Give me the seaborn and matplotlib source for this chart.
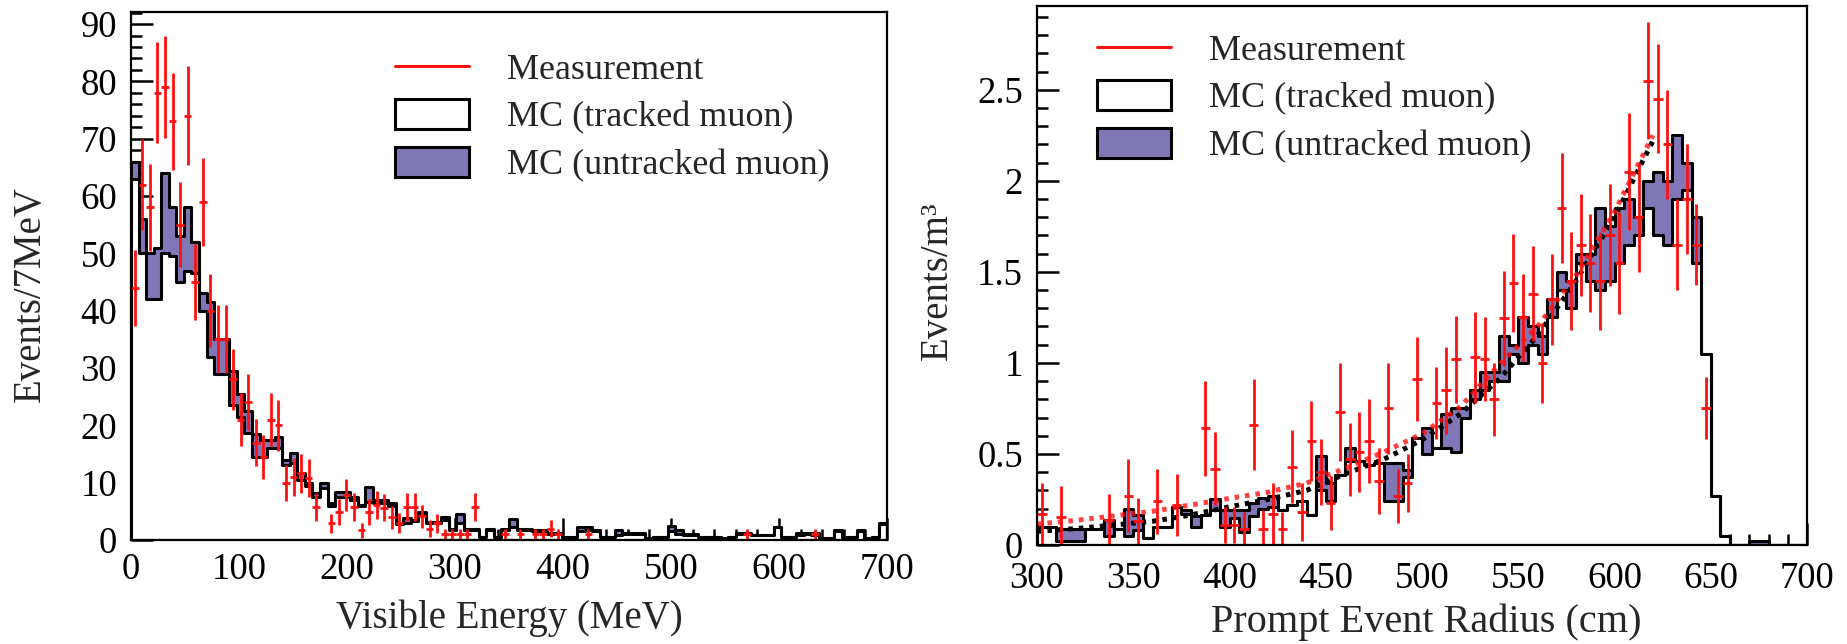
import numpy as np
import pandas as pd
import matplotlib
matplotlib.use("Agg")
import matplotlib.pyplot as plt
from matplotlib.lines import Line2D
from matplotlib.patches import Patch
from matplotlib.ticker import MultipleLocator, FormatStrFormatter
import seaborn as sns

# ---------------- data: visible energy (7 MeV bins, 0-700 MeV) ----------------
energy_edges = np.arange(0, 701, 7)
energy_mc_total = [
    66, 56, 50, 51, 64, 58, 53, 58, 52, 43,
    41.5, 35, 35, 29.5, 25.5, 22.5, 18.5, 17.5, 17.5, 18,
    14, 15.2, 11.7, 10, 8.2, 10, 6.4, 8.4, 8.4, 7.5,
    6.1, 9.3, 7, 7, 6.4, 3, 3.8, 3.5, 4.9, 3.2,
    3.2, 4, 2, 4.5, 2, 2, 0.6, 2, 0.6, 2,
    3.6, 2, 2, 1.7, 1.7, 1.2, 1.2, 0.6, 0.6, 2.3,
    2.3, 1.7, 0.6, 0.6, 1.7, 1.2, 1.2, 1.2, 0.3, 0.6,
    0.6, 2.5, 1.7, 1, 1, 0.6, 0.6, 0.6, 0.4, 0.6,
    1.2, 1.2, 0.9, 0.9, 0.9, 2.3, 0.6, 0.6, 1.2, 1.2,
    1.2, 0.3, 0.3, 1.7, 0.6, 0.6, 1.7, 0.4, 0.6, 2.9,
]
energy_mc_tracked = [
    63, 50, 42, 42, 50, 49.5, 45, 47, 46.5, 40,
    32, 29, 29, 23.5, 21.5, 18.7, 14.5, 14.5, 16, 16,
    13, 13.4, 10.5, 9.5, 7.5, 9, 6, 7.5, 7.5, 7,
    6, 6.6, 6.5, 6.5, 6, 2.8, 3, 3.3, 4.5, 3,
    3, 3.5, 1.8, 3, 1.8, 1.8, 0.5, 1.8, 0.5, 1.8,
    2.3, 1.8, 1.8, 1.5, 1.5, 1.1, 1.1, 0.5, 0.5, 1.5,
    1.7, 1.5, 0.5, 0.5, 0.9, 1.1, 1.1, 1.1, 0, 0.5,
    0.5, 1.5, 1, 0.9, 0.9, 0.5, 0.5, 0.5, 0.2, 0.5,
    1.1, 1.1, 0.8, 0.8, 0.8, 2.2, 0.5, 0.5, 0.8, 1.1,
    0.8, 0.2, 0.2, 1.6, 0.5, 0.5, 1.6, 0.3, 0.5, 2.8,
]
energy_data = [
    44, 62, 58, 78, 79, 73, 55, 74, 45, 59,
    40, 35, 35, 28, 21, 24, 17, 14.5, 21, 20,
    10, 11, 11.6, 10.8, 5.8, 0, 2.9, 4.9, 7.8, 5.8,
    1.7, 4.9, 6.1, 5.6, 4, 3, 5.8, 5.8, 4.1, 2,
    2.9, 1, 1, 1, 1, 5.8, 0, 0, 0, 1,
    0, 1, 0, 1, 1, 2, 1, 0, 0, 0,
    1, 0, 0, 0, 0, 0, 0, 0, 0, 0,
    0, 0, 0, 0, 0, 0, 0, 0, 0, 0,
    0, 1, 0, 0, 0, 0, 0, 0, 0, 0,
    1, 0, 0, 0, 0, 0, 0, 0, 0, 0,
]

# ---------------- data: prompt event radius (5 cm bins, 300-700 cm) ----------------
radius_edges = np.arange(300, 701, 5)
radius_mc_total = [
    0.10, 0.10, 0.09, 0.09, 0.09, 0.09, 0.09, 0.14, 0.09, 0.20,
    0.165, 0.04, 0.10, 0.10, 0.21, 0.19, 0.16, 0.165, 0.25, 0.19,
    0.19, 0.19, 0.23, 0.26, 0.27, 0.19, 0.22, 0.24, 0.165, 0.49,
    0.34, 0.385, 0.53, 0.46, 0.44, 0.45, 0.45, 0.45, 0.41, 0.59,
    0.64, 0.53, 0.72, 0.75, 0.75, 0.85, 0.95, 0.95, 1.15, 1.10,
    1.25, 1.20, 1.15, 1.35, 1.50, 1.45, 1.60, 1.60, 1.85, 1.75,
    1.85, 1.90, 1.80, 2.00, 2.05, 2.00, 2.25, 2.10, 1.80, 1.05,
    0.27, 0.05, 0, 0, 0.02, 0.02, 0, 0, 0, 0,
]
radius_mc_tracked = [
    0.10, 0.10, 0.02, 0.02, 0.02, 0.09, 0.09, 0.05, 0.09, 0.05,
    0.08, 0.04, 0.10, 0.10, 0.21, 0.17, 0.10, 0.165, 0.19, 0.10,
    0.15, 0.07, 0.16, 0.20, 0.21, 0.19, 0.22, 0.24, 0.165, 0.30,
    0.24, 0.385, 0.46, 0.46, 0.44, 0.45, 0.24, 0.24, 0.375, 0.59,
    0.50, 0.53, 0.53, 0.51, 0.70, 0.80, 0.85, 0.90, 0.90, 1.05,
    1.00, 1.10, 1.05, 1.25, 1.40, 1.30, 1.55, 1.45, 1.40, 1.45,
    1.55, 1.65, 1.70, 1.85, 1.70, 1.65, 1.90, 1.95, 1.55, 1.05,
    0.27, 0.05, 0, 0, 0, 0, 0, 0, 0, 0,
]
radius_data_x = [
    302.5, 312.5, 337.5, 347.5, 352.5, 362.5, 372.5, 387.5, 392.5, 397.5,
    402.5, 407.5, 412.5, 417.5, 422.5, 427.5, 432.5, 437.5, 442.5, 447.5,
    452.5, 457.5, 462.5, 467.5, 472.5, 477.5, 482.5, 487.5, 492.5, 497.5,
    507.5, 512.5, 517.5, 527.5, 532.5, 537.5, 542.5, 547.5, 552.5, 557.5,
    562.5, 567.5, 572.5, 577.5, 582.5, 587.5, 592.5, 597.5, 602.5, 607.5,
    612.5, 617.5, 622.5, 627.5, 632.5, 637.5, 642.5, 647.5,
]
radius_data_y = [
    0.17, 0.155, 0.14, 0.27, 0.13, 0.24, 0.22, 0.64, 0.42, 0.11,
    0.11, 0.09, 0.66, 0.09, 0.17, 0.09, 0.43, 0.18, 0.57, 0.40,
    0.23, 0.73, 0.47, 0.51, 0.57, 0.35, 0.75, 0.27, 0.34, 0.91,
    0.78, 0.85, 1.02, 1.03, 1.02, 0.80, 1.245, 1.44, 1.25, 1.38,
    1.00, 1.35, 1.85, 1.45, 1.65, 1.55, 1.45, 1.70, 1.55, 2.05,
    1.80, 2.55, 2.45, 2.20, 1.65, 1.90, 1.65, 0.75,
]
radius_data_err = [
    0.17, 0.17, 0.14, 0.20, 0.13, 0.18, 0.17, 0.26, 0.20, 0.10,
    0.10, 0.09, 0.25, 0.10, 0.17, 0.09, 0.20, 0.16, 0.22, 0.18,
    0.15, 0.27, 0.20, 0.22, 0.23, 0.18, 0.25, 0.15, 0.16, 0.23,
    0.20, 0.24, 0.24, 0.25, 0.23, 0.20, 0.26, 0.27, 0.24, 0.26,
    0.22, 0.25, 0.30, 0.27, 0.28, 0.27, 0.27, 0.28, 0.28, 0.32,
    0.30, 0.32, 0.30, 0.30, 0.25, 0.30, 0.22, 0.17,
]
# fitted curves read at fixed radii
fit_r = [300, 320, 340, 360, 380, 400, 420, 440, 460, 480, 500, 520, 540, 560, 580, 600, 620]
fit_data = [0.115, 0.135, 0.16, 0.185, 0.22, 0.256, 0.29, 0.34, 0.42, 0.51,
            0.61, 0.76, 0.99, 1.20, 1.48, 1.83, 2.25]
fit_mc = [0.075, 0.09, 0.11, 0.13, 0.165, 0.21, 0.25, 0.30, 0.39, 0.47,
          0.577, 0.72, 0.91, 1.15, 1.45, 1.80, 2.22]

legend_labels = ["Measurement", "MC (tracked muon)", "MC (untracked muon)"]

# ---------------- style ----------------
sns.set_theme(style="ticks")
plt.rcParams["font.family"] = ["Liberation Serif", "DejaVu Serif"]
FS_TICK = 26.5
FS_LABEL = 28
FS_LEG = 26
PURPLE = "#8078b6"
RED = "#ff1010"

W, H = 1847, 644
fig = plt.figure(figsize=(W / 100, H / 100), dpi=100)


def frac_axes(x0, y0, x1, y1):
    return fig.add_axes([x0 / W, 1 - y1 / H, (x1 - x0) / W, (y1 - y0) / H])


def mc_hist(ax, edges, total, tracked):
    centers = (edges[:-1] + edges[1:]) / 2
    df = pd.DataFrame({"x": centers, "total": total, "tracked": tracked})
    bin_list = [float(b) for b in edges]
    sns.histplot(data=df, x="x", weights="total", bins=bin_list, element="step", fill=True,
                 color=PURPLE, alpha=1, edgecolor="black", linewidth=2.2, ax=ax)
    sns.histplot(data=df, x="x", weights="tracked", bins=bin_list, element="step", fill=True,
                 color="white", alpha=1, edgecolor="black", linewidth=2.2, ax=ax)


def style_axes(ax, xmaj, xmin, ymaj, ymin):
    for s in ax.spines.values():
        s.set_linewidth(1.6)
        s.set_color("black")
        s.set_visible(True)
        s.set_zorder(6)
    ax.xaxis.set_major_locator(MultipleLocator(xmaj))
    ax.xaxis.set_minor_locator(MultipleLocator(xmin))
    ax.yaxis.set_major_locator(MultipleLocator(ymaj))
    ax.yaxis.set_minor_locator(MultipleLocator(ymin))
    ax.tick_params(which="both", direction="in", top=False, right=False,
                   labelsize=FS_TICK, colors="black", width=1.8)
    ax.tick_params(which="major", length=16)
    ax.tick_params(which="minor", length=8)
    ax.tick_params(axis="y", which="major", pad=10)
    ax.tick_params(axis="x", which="major", pad=9)
    ax.grid(False)


def add_legend(ax, anchor):
    handles = [
        Line2D([], [], color=RED, lw=2.2),
        Patch(facecolor="white", edgecolor="black", linewidth=2.2),
        Patch(facecolor=PURPLE, edgecolor="black", linewidth=2.2),
    ]
    ax.legend(handles, legend_labels, loc="upper left",
              bbox_to_anchor=(anchor[0] / W, 1 - anchor[1] / H),
              bbox_transform=fig.transFigure, frameon=False, fontsize=FS_LEG,
              handlelength=2.05, handleheight=0.9, handletextpad=1.05,
              labelspacing=0.33, borderpad=0, borderaxespad=0)


# ---------------- left: visible energy ----------------
axL = frac_axes(131, 12, 887, 540)
mc_hist(axL, energy_edges, energy_mc_total, energy_mc_tracked)
e_cent = (energy_edges[:-1] + energy_edges[1:]) / 2
e_val = np.asarray(energy_data, float)
keep = e_val > 0
axL.errorbar(e_cent[keep], e_val[keep], xerr=3.5, yerr=np.sqrt(e_val[keep]),
             fmt="none", ecolor=RED, elinewidth=2.0, capsize=0, zorder=5)
axL.set_xlim(0, 700)
axL.set_ylim(0, 92.1)
style_axes(axL, 100, 20, 10, 2)
axL.set_xlabel("Visible Energy (MeV)", fontsize=FS_LABEL)
axL.set_ylabel("Events/7MeV", fontsize=FS_LABEL)
axL.xaxis.set_label_coords(0.5, -0.112)
axL.xaxis.label.set_va("top")
axL.yaxis.set_label_coords(-0.108, 0.465)
add_legend(axL, (395, 52))

# ---------------- right: prompt event radius ----------------
axR = frac_axes(1037, 6, 1807, 545)
mc_hist(axR, radius_edges, radius_mc_total, radius_mc_tracked)
axR.plot(fit_r, fit_mc, color="black", lw=3.6, ls=(0, (0.9, 1.2)), zorder=4)
axR.plot(fit_r, fit_data, color=RED, lw=3.6, ls=(0, (0.9, 1.2)), alpha=0.8, zorder=4)
axR.errorbar(radius_data_x, radius_data_y, xerr=2.5, yerr=radius_data_err,
             fmt="none", ecolor=RED, elinewidth=2.0, capsize=0, zorder=5)
axR.set_xlim(300, 700)
axR.set_ylim(0, 2.96)
style_axes(axR, 50, 10, 0.5, 0.1)
axR.tick_params(axis="x", which="major", pad=12)
axR.yaxis.set_major_formatter(FormatStrFormatter("%g"))
axR.set_xlabel("Prompt Event Radius (cm)", fontsize=29)
axR.set_ylabel("Events/m³", fontsize=FS_LABEL)
axR.xaxis.set_label_coords(0.506, -0.108)
axR.xaxis.label.set_va("top")
axR.yaxis.set_label_coords(-0.105, 0.49)
add_legend(axR, (1097, 33))

fig.savefig("out.png", dpi=100, facecolor="white")
